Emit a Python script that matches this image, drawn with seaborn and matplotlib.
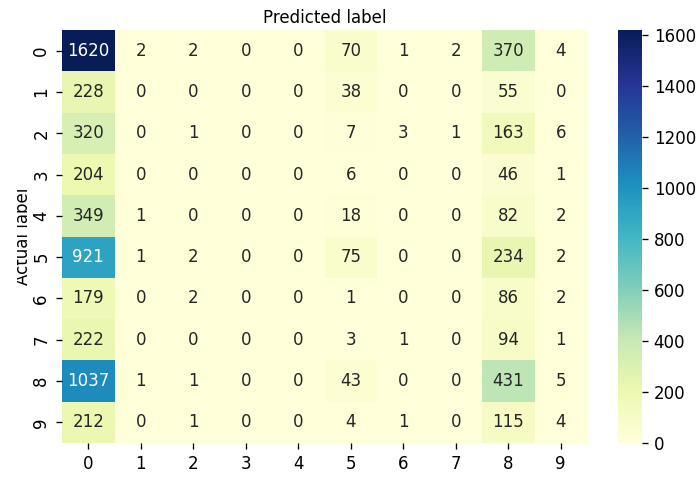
import numpy as np
import pandas as pd
import matplotlib
matplotlib.use("Agg")
import matplotlib.pyplot as plt
from matplotlib.transforms import Bbox, TransformedBbox
import seaborn as sns

class_labels = [0, 1, 2, 3, 4, 5, 6, 7, 8, 9]

row_0 = [1620, 2, 2, 0, 0, 70, 1, 2, 370, 4]
row_1 = [228, 0, 0, 0, 0, 38, 0, 0, 55, 0]
row_2 = [320, 0, 1, 0, 0, 7, 3, 1, 163, 6]
row_3 = [204, 0, 0, 0, 0, 6, 0, 0, 46, 1]
row_4 = [349, 1, 0, 0, 0, 18, 0, 0, 82, 2]
row_5 = [921, 1, 2, 0, 0, 75, 0, 0, 234, 2]
row_6 = [179, 0, 2, 0, 0, 1, 0, 0, 86, 2]
row_7 = [222, 0, 0, 0, 0, 3, 1, 0, 94, 1]
row_8 = [1037, 1, 1, 0, 0, 43, 0, 0, 431, 5]
row_9 = [212, 0, 1, 0, 0, 4, 1, 0, 115, 4]

cnf_matrix = pd.DataFrame(
    [row_0, row_1, row_2, row_3, row_4, row_5, row_6, row_7, row_8, row_9],
    index=class_labels, columns=class_labels)

# original was rendered larger and shrunk, so draw at 120 dpi
W, H, DPI = 697, 479, 120
fig = plt.figure(figsize=(W / DPI, H / DPI), dpi=DPI)
ax = fig.add_axes([62 / W, 1 - 443 / H, 525 / W, 413 / H])
cax = fig.add_axes([618 / W, 1 - 443 / H, 24 / W, 413 / H])

sns.heatmap(cnf_matrix, annot=True, cmap="YlGnBu", fmt="g", ax=ax, cbar_ax=cax)
ax.xaxis.set_label_position("top")
ax.set_xlabel("Predicted label")
ax.set_ylabel("Actual label", labelpad=0.5)
plt.setp(ax.get_yticklabels(), rotation=90, va="center")
plt.setp(ax.get_xticklabels(), rotation=0)

# the y label is cut off on its left side in the original
ylab = ax.yaxis.label
ylab.set_clip_box(TransformedBbox(Bbox([[17 / W, 0], [1, 1]]), fig.transFigure))
ylab.set_clip_on(True)

fig.savefig("out.png", dpi=DPI)
